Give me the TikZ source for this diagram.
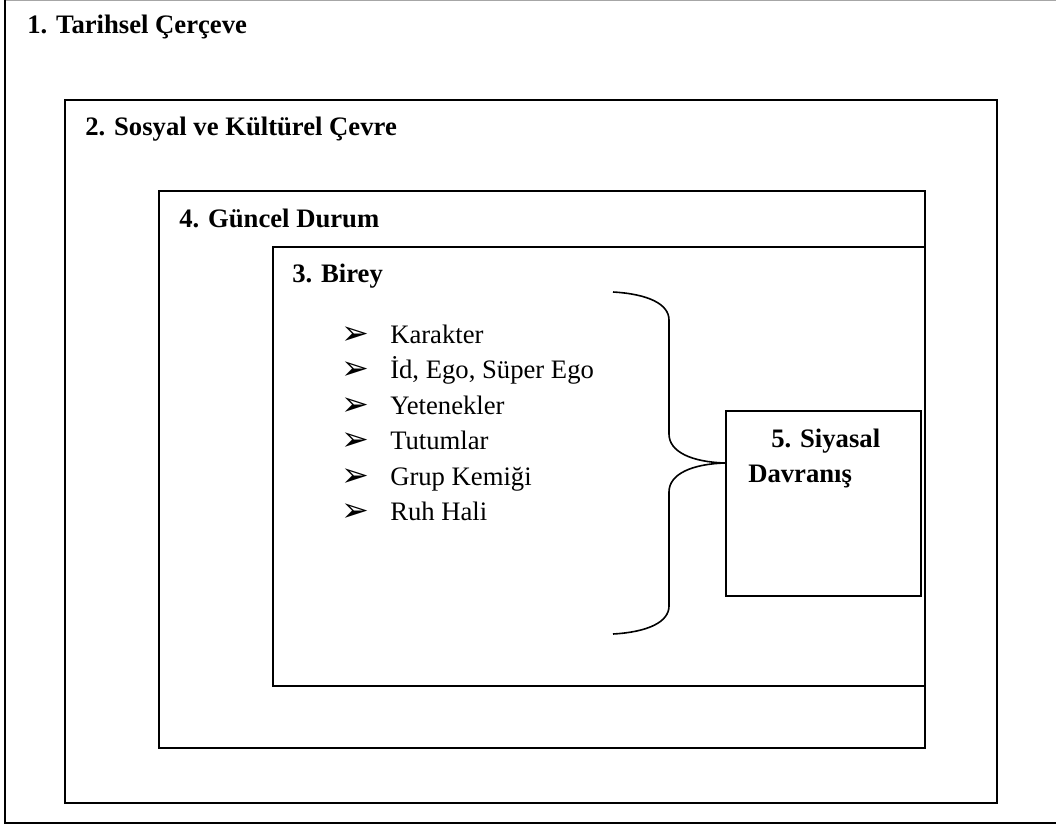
\documentclass[tikz,border=0pt]{standalone}
\usepackage{fontspec}
\setmainfont{Liberation Serif}
\newfontfamily\dejavu{DejaVu Sans}
\begin{document}
\begin{tikzpicture}[x=0.75pt,y=-0.75pt,
  frame/.style={draw=black,line width=1.5pt},
  head/.style={anchor=base west,inner sep=0pt,font=\fontsize{20}{24}\selectfont\bfseries},
  item/.style={anchor=base west,inner sep=0pt,font=\fontsize{20}{24}\selectfont},
  bul/.style={anchor=base west,inner sep=0pt,font=\dejavu\fontsize{25}{30}\selectfont},
  brace/.style={draw=black,line width=1.2pt}]
\useasboundingbox (0,0) rectangle (1056,825);
% outer frame (extends past right edge)
\draw[draw=black!35,line width=1pt] (5,0.6) -- (1056,0.6);
\draw[frame] (1056,822.5) -- (5,822.5) -- (5,0);
% nested frames
\draw[frame] (65,100) rectangle (997,803);
\draw[frame] (159,191) rectangle (925,748);
\draw[frame] (273,247) rectangle (925,686);
\draw[frame] (726,411) rectangle (921,596);
% headings
\node[head] (h1) at (27,33) {1. Tarihsel Çerçeve};
\node[head] (h2) at (85,135) {2. Sosyal ve Kültürel Çevre};
\node[head] (h4) at (179,227) {4. Güncel Durum};
\node[head] (h3) at (292,282) {3. Birey};
\node[head] (h5a) at (771,447) {5. Siyasal};
\node[head] (h5b) at (748,482) {Davranış};
% list
\foreach \t [count=\i] in {Karakter,{İd, Ego, Süper Ego},Yetenekler,Tutumlar,{Grup Kemiği},{Ruh Hali}}{
  \pgfmathsetmacro{\yy}{343+35.5*(\i-1)}
  \node[bul] (b\i) at (341,\yy+1) {➢};
  \node[item] (t\i) at (390,\yy) {\t};
}
% brace
\coordinate (btop) at (613,292);
\coordinate (bbot) at (613,634);
\coordinate (btip) at (725,463);
\draw[brace] (btop) .. controls (648,294) and (669,304) .. (669,320) -- (669,434)
  .. controls (669,452) and (692,462) .. (btip);
\draw[brace] (btip) .. controls (692,464) and (669,474) .. (669,492) -- (669,606)
  .. controls (669,622) and (648,632) .. (bbot);
\end{tikzpicture}
\end{document}
